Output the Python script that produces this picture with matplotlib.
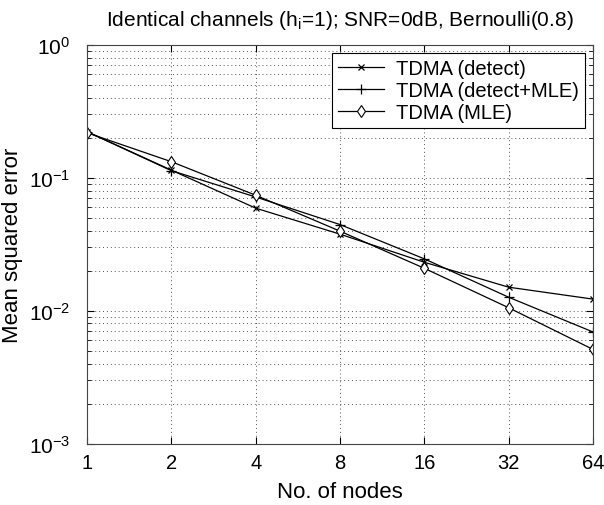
import matplotlib
matplotlib.use("Agg")
import matplotlib.pyplot as plt
from matplotlib.ticker import FixedLocator, FixedFormatter, NullLocator, LogLocator

plt.rcParams['font.family'] = ['Liberation Sans', 'DejaVu Sans']
plt.rcParams['mathtext.fontset'] = 'custom'
plt.rcParams['mathtext.rm'] = 'Liberation Sans'
plt.rcParams['mathtext.it'] = 'Liberation Sans'

nodes = [1, 2, 4, 8, 16, 32, 64]
mse_detect = [0.222, 0.114, 0.059, 0.0376, 0.0231, 0.0150, 0.0122]
mse_detect_mle = [0.222, 0.113, 0.0716, 0.0444, 0.0245, 0.0126, 0.0069]
mse_mle = [0.218, 0.132, 0.0738, 0.0396, 0.0208, 0.0105, 0.0051]
xtick_labels = ['1', '2', '4', '8', '16', '32', '64']

fig = plt.figure(figsize=(6.04, 5.06), dpi=100)
ax = fig.add_axes([0.144, 0.1215, 0.838, 0.788])

ax.plot(nodes, mse_detect, color='black', lw=0.9, marker='x', ms=5, mew=0.9,
        label='TDMA (detect)')
ax.plot(nodes, mse_detect_mle, color='black', lw=0.9, marker='+', ms=7, mew=0.9,
        label='TDMA (detect+MLE)')
ax.plot(nodes, mse_mle, color='black', lw=0.9, marker='d', ms=6, mew=0.8,
        mfc='white', label='TDMA (MLE)')

ax.set_xscale('log', base=2)
ax.set_yscale('log')
ax.set_xlim(1, 64)
ax.set_ylim(1e-3, 1)

ax.xaxis.set_major_locator(FixedLocator(nodes))
ax.xaxis.set_major_formatter(FixedFormatter(xtick_labels))
ax.xaxis.set_minor_locator(NullLocator())
ax.yaxis.set_minor_locator(LogLocator(base=10, subs=range(2, 10)))

ax.grid(True, which='major', ls=(0, (1, 3)), color='#555555', lw=0.7)
ax.grid(True, which='minor', axis='y', ls=(0, (1, 3)), color='#555555', lw=0.7)

ax.tick_params(which='both', direction='in', top=True, right=True, labelsize=15)
ax.tick_params(which='major', length=5)
ax.tick_params(which='minor', length=3)
ax.tick_params(axis='x', pad=7, labelsize=14.5)
ax.tick_params(axis='y', pad=12)
for s in ax.spines.values():
    s.set_color('#444444')

ax.set_xlabel('No. of nodes', fontsize=16, labelpad=6)
ax.set_ylabel('Mean squared error', fontsize=16, labelpad=4)
ax.set_title('Identical channels (h$_\\mathrm{i}$=1); SNR=0dB, Bernoulli(0.8)',
             fontsize=15, pad=14)

leg = ax.legend(loc='upper right', fontsize=14.5, fancybox=False, framealpha=1,
                edgecolor='black', handlelength=2.3, borderaxespad=0.4,
                labelspacing=0.15, borderpad=0.3, handletextpad=0.6)
leg.get_frame().set_linewidth(0.8)

fig.savefig('out.png', dpi=100)
